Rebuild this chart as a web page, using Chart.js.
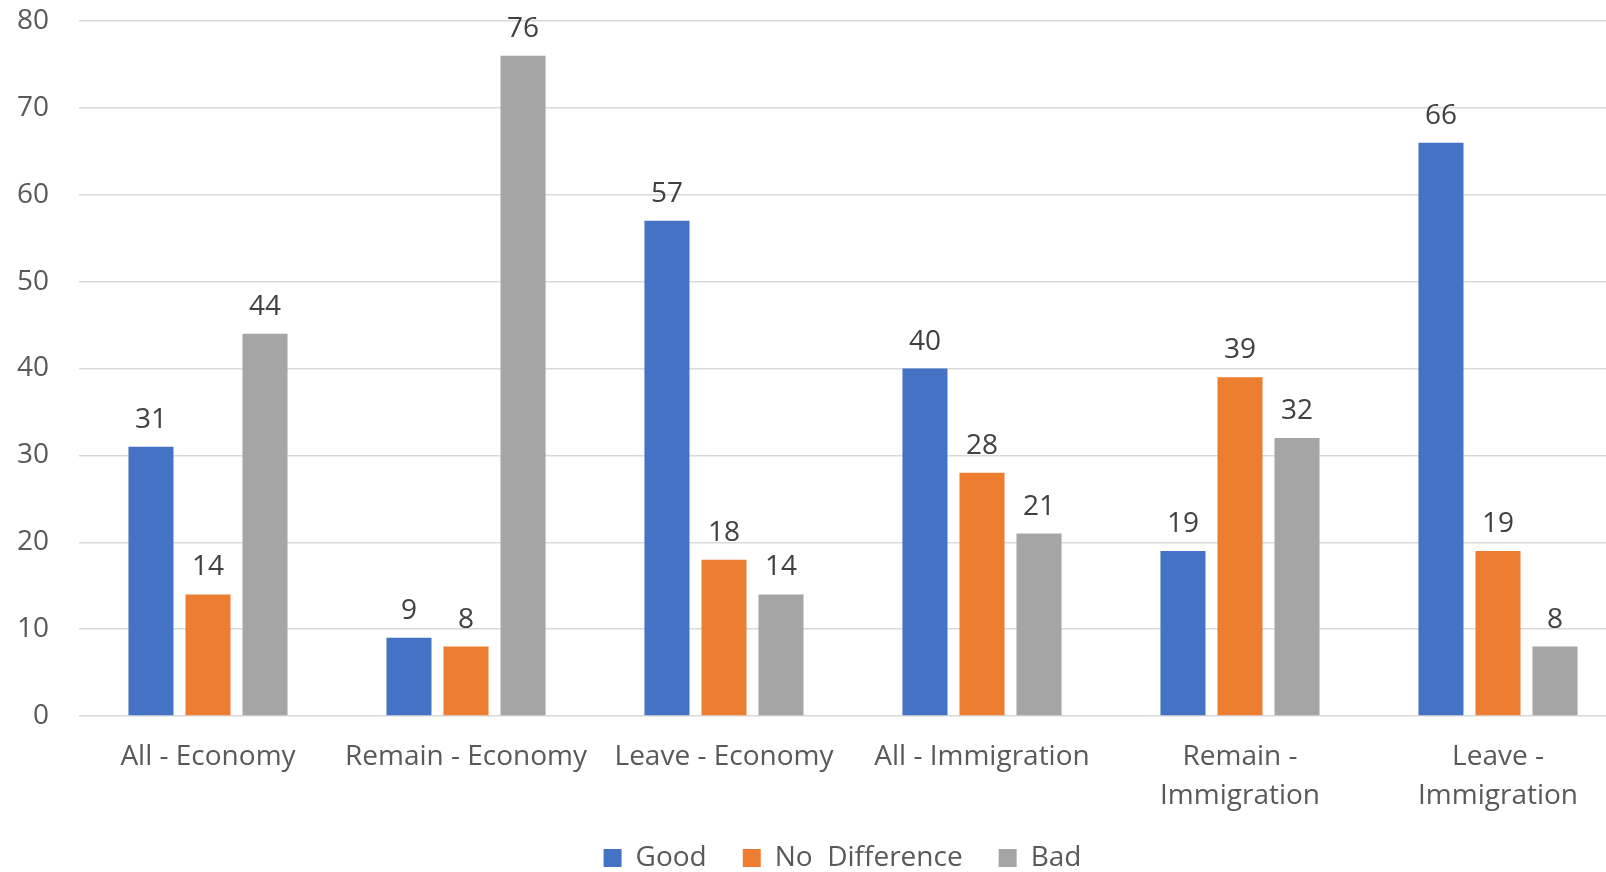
<!DOCTYPE html>
<html>
<head>
<meta charset="utf-8">
<script src="https://cdn.jsdelivr.net/npm/chart.js@4"></script>
<style>
  html, body { margin: 0; padding: 0; background: #fff; }
  #wrap { width: 1606px; height: 872px; }
</style>
</head>
<body>
<div id="wrap"><canvas id="chart"></canvas></div>
<script>
    // Data
    var categories = [
        'All - Economy',
        'Remain - Economy',
        'Leave - Economy',
        'All - Immigration',
        ['Remain -', 'Immigration'],
        ['Leave -', 'Immigration']
    ];
    var goodValues = [31, 9, 57, 40, 19, 66];
    var noDiffValues = [14, 8, 18, 28, 39, 19];
    var badValues = [44, 76, 14, 21, 32, 8];
    var yTicks = [0, 10, 20, 30, 40, 50, 60, 70, 80];

    var FONT = '"Open Sans", sans-serif';

    // Draw the value above each bar
    var valueLabels = {
        id: 'valueLabels',
        afterDatasetsDraw: function(chart) {
            var ctx = chart.ctx;
            ctx.save();
            ctx.font = '28px ' + FONT;
            ctx.fillStyle = '#404040';
            ctx.textAlign = 'center';
            ctx.textBaseline = 'alphabetic';
            chart.data.datasets.forEach(function(ds, i) {
                chart.getDatasetMeta(i).data.forEach(function(bar, j) {
                    ctx.fillText(String(ds.data[j]), bar.x, bar.y - 19);
                });
            });
            ctx.restore();
        }
    };

    // Layout tweaks: short legend nudged up, plot area running a bit past the right edge
    var layoutTweaks = {
        id: 'layoutTweaks',
        beforeLayout: function(chart) {
            var legend = chart.legend;
            if (legend && !legend._fitPatched) {
                var fit = legend.fit;
                legend.fit = function() {
                    fit.call(this);
                    this.height = 56;
                };
                legend._fitPatched = true;
            }
        },
        afterLayout: function(chart) {
            if (chart.legend) {
                chart.legend.top -= 8;
            }
            var x = chart.scales.x;
            x.right += 21;
            x.width += 21;
            x.configure();
            chart.chartArea.right += 21;
            chart.chartArea.width += 21;
        }
    };

    var ctx = document.getElementById('chart').getContext('2d');
    new Chart(ctx, {
        type: 'bar',
        data: {
            labels: categories,
            datasets: [{
                label: 'Good',
                data: goodValues,
                backgroundColor: '#4472C4'
            }, {
                label: 'No  Difference',
                data: noDiffValues,
                backgroundColor: '#ED7D31'
            }, {
                label: 'Bad',
                data: badValues,
                backgroundColor: '#A5A5A5'
            }]
        },
        options: {
            responsive: true,
            maintainAspectRatio: false,
            animation: false,
            datasets: {
                bar: {
                    categoryPercentage: 0.663,
                    barPercentage: 0.79
                }
            },
            layout: {
                padding: { top: 21, right: 0, left: 0, bottom: 0 }
            },
            plugins: {
                legend: {
                    position: 'bottom',
                    fullSize: false,
                    labels: {
                        font: { family: FONT, size: 28 },
                        color: '#595959',
                        boxWidth: 18,
                        boxHeight: 18,
                        padding: 36
                    }
                },
                tooltip: { enabled: false }
            },
            scales: {
                x: {
                    grid: { display: false, drawTicks: false },
                    border: { display: false },
                    ticks: {
                        font: { family: FONT, size: 28, lineHeight: 1.4 },
                        color: '#595959',
                        maxRotation: 0,
                        autoSkip: false,
                        padding: 21
                    },
                    afterFit: function(scale) {
                        scale.height = 100;
                    }
                },
                y: {
                    min: 0,
                    max: 80,
                    afterBuildTicks: function(axis) {
                        axis.ticks = yTicks.map(function(v) { return { value: v }; });
                    },
                    grid: { color: '#d9d9d9', lineWidth: 1.5, drawTicks: false },
                    border: { display: false },
                    ticks: {
                        font: { family: FONT, size: 28 },
                        color: '#595959',
                        padding: 30
                    },
                    afterFit: function(scale) {
                        scale.width = 79;
                        scale.paddingTop = 0;
                        scale.paddingBottom = 0;
                    }
                }
            }
        },
        plugins: [valueLabels, layoutTweaks]
    });
</script>
</body>
</html>
